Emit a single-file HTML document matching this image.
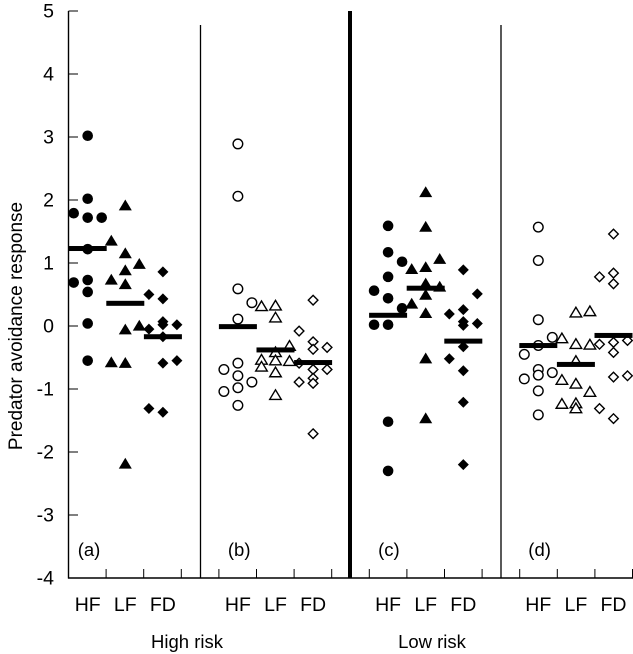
<!DOCTYPE html>
<html><head><meta charset="utf-8"><style>
html,body{margin:0;padding:0;background:#fff;}
svg{display:block;font-family:"Liberation Sans",Arial,sans-serif;}
</style></head><body>
<svg id="chart" width="633" height="654" viewBox="0 0 633 654" xmlns="http://www.w3.org/2000/svg"></svg>
<script>
// ---- data ----
const panels = ['(a)','(b)','(c)','(d)'];
const categories = ['HF','LF','FD'];
const yTicks = [5,4,3,2,1,0,-1,-2,-3,-4];
const groupLabels = ['High risk','Low risk'];
const aHF = [3.02,2.02,1.79,1.72,1.72,1.22,0.73,0.69,0.54,0.04,-0.55];
const aLF = [1.91,1.35,1.15,0.98,0.88,0.73,0.66,0,-0.06,-0.58,-0.59,-2.19];
const aFD = [0.86,0.5,0.43,0.07,0.02,0.02,-0.05,-0.17,-0.55,-0.59,-1.31,-1.37];
const bHF = [2.89,2.06,0.59,0.37,0.11,-0.59,-0.69,-0.79,-0.89,-0.98,-1.04,-1.26];
const bLF = [0.31,0.32,0.13,-0.32,-0.42,-0.54,-0.55,-0.56,-0.65,-0.74,-1.1];
const bFD = [0.41,-0.08,-0.25,-0.37,-0.34,-0.59,-0.69,-0.69,-0.83,-0.91,-0.89,-1.71];
const cHF = [1.59,1.17,1.02,0.78,0.56,0.44,0.28,0.02,0.02,-1.52,-2.3];
const cLF = [2.12,1.57,1.06,0.9,0.93,0.67,0.62,0.49,0.35,0.2,-0.52,-1.47];
const cFD = [0.89,0.51,0.26,0.19,0.07,0.04,0.01,-0.33,-0.52,-0.71,-1.21,-2.2];
const dHF = [1.57,1.04,0.1,-0.18,-0.31,-0.45,-0.69,-0.74,-0.78,-0.84,-1.03,-1.41];
const dLF = [0.21,0.23,-0.2,-0.29,-0.3,-0.56,-0.86,-0.92,-1.05,-1.24,-1.23,-1.31];
const dFD = [1.46,0.78,0.84,0.67,-0.29,-0.26,-0.23,-0.42,-0.81,-0.79,-1.31,-1.47];
const aHFj=[0,0,-1,0,1,0,0,-1,0,0,0], aLFj=[0,-1,0,1,0,-1,0,1,0,-1,0,0], aFDj=[0,-1,0,0,0,1,-1,0,1,0,-1,0];
const bHFj=[0,0,0,1,0,0,-1,0,1,0,-1,0], bLFj=[-1,0,0,1,0,-1,0,1,-1,0,0], bFDj=[0,-1,0,0,1,-1,0,1,0,0,-1,0];
const cHFj=[0,0,1,0,-1,0,1,-1,0,0,0], cLFj=[0,0,1,-1,0,0,1,0,-1,0,0,0], cFDj=[0,1,0,-1,0,1,0,0,-1,0,0,0];
const dHFj=[0,0,0,1,0,-1,0,1,0,-1,0,0], dLFj=[0,1,-1,0,1,0,-1,0,1,-1,0,0], dFDj=[0,-1,0,0,-1,0,1,0,0,1,-1,0];
const means = [[1.23,0.36,-0.17],[-0.01,-0.38,-0.58],[0.17,0.6,-0.24],[-0.31,-0.61,-0.15]];

const values=[[aHF,aLF,aFD],[bHF,bLF,bFD],[cHF,cLF,cFD],[dHF,dLF,dFD]];
const jit=[[aHFj,aLFj,aFDj],[bHFj,bLFj,bFDj],[cHFj,cLFj,cFDj],[dHFj,dLFj,dFDj]];

// ---- scales ----
const y0=326, pxU=63;
function yS(v){return y0 - v*pxU;}
function xS(p,c){return 87.7 + p*150.2 + c*37.6;}
const NS='http://www.w3.org/2000/svg';
const svg=document.getElementById('chart');
function mk(tag,attrs,parent){const e=document.createElementNS(NS,tag);for(const k in attrs)e.setAttribute(k,attrs[k]);(parent||svg).appendChild(e);return e;}

let e;
e=mk('line',{x1:68.5,y1:yS(5),x2:68.5,y2:yS(-4)+0.5,stroke:'#000','stroke-width':1.4});


e=mk('line',{x1:68,y1:yS(-4),x2:633,y2:yS(-4),stroke:'#000','stroke-width':1.4});


yTicks.forEach(t=>{
  let l=mk('line',{x1:68.5,y1:yS(t),x2:78,y2:yS(t),stroke:'#000','stroke-width':1});
  
  
  let tx=mk('text',{x:54,y:yS(t)+6.5,'text-anchor':'end','font-size':19.5});
  tx.textContent=String(t);
  
  
});
for(let k=1;k<=15;k++){
  const x=68.5+k*37.6;
  let l=mk('line',{x1:x,y1:yS(-4),x2:x,y2:yS(-4)-9,stroke:'#000','stroke-width':1});
  
  
}
[[200.5,1.3],[350,4],[501,1.3]].forEach((d,i)=>{
  let l=mk('line',{x1:d[0],y1:i==1?yS(5):25,x2:d[0],y2:yS(-4),stroke:'#000','stroke-width':d[1]});
  
  
});
e=mk('text',{x:0,y:0,'font-size':19,'text-anchor':'middle',transform:'translate(22,326) rotate(-90)'});
e.textContent='Predator avoidance response';



function marker(shape,filled,x,y,g){
  const f=filled?'#000':'#fff', sw=filled?0:1.4;
  if(shape===0) return mk('circle',{cx:x,cy:y,r:filled?5.3:4.8,fill:f,stroke:'#000','stroke-width':sw},g);
  if(shape===1){const s=filled?6.2:5.5;return mk('polygon',{points:`${x},${y-s} ${x-s*1.05},${y+s*0.75} ${x+s*1.05},${y+s*0.75}`,fill:f,stroke:'#000','stroke-width':sw},g);}
  const s=filled?5.5:4.8;return mk('polygon',{points:`${x},${y-s} ${x+s},${y} ${x},${y+s} ${x-s},${y}`,fill:f,stroke:'#000','stroke-width':sw},g);
}

values.forEach((pv,p)=>{
  const filled=(p===0||p===2);
  let lab=mk('text',{x:xS(p,0)-10,y:556,'font-size':18.5});
  lab.textContent=panels[p];
  
  
  pv.forEach((arr,c)=>{
    const g=mk('g',{});
    
    
    arr.forEach((v,i)=>{
      const m=marker(c,filled,xS(p,c)+jit[p][c][i]*14,yS(v),g);
      
      
    });
    let b=mk('rect',{x:xS(p,c)-19,y:yS(means[p][c])-2.5,width:38,height:5,fill:'#000'});
    
    
    let ct=mk('text',{x:xS(p,c),y:611,'font-size':19.5,'text-anchor':'middle'});
    ct.textContent=categories[c];
    
    
  });
});
groupLabels.forEach((t,i)=>{
  let tx=mk('text',{x:i==0?187:432,y:648,'font-size':18.5,'text-anchor':'middle'});
  tx.textContent=t;
  
  
});
</script>
</body></html>
